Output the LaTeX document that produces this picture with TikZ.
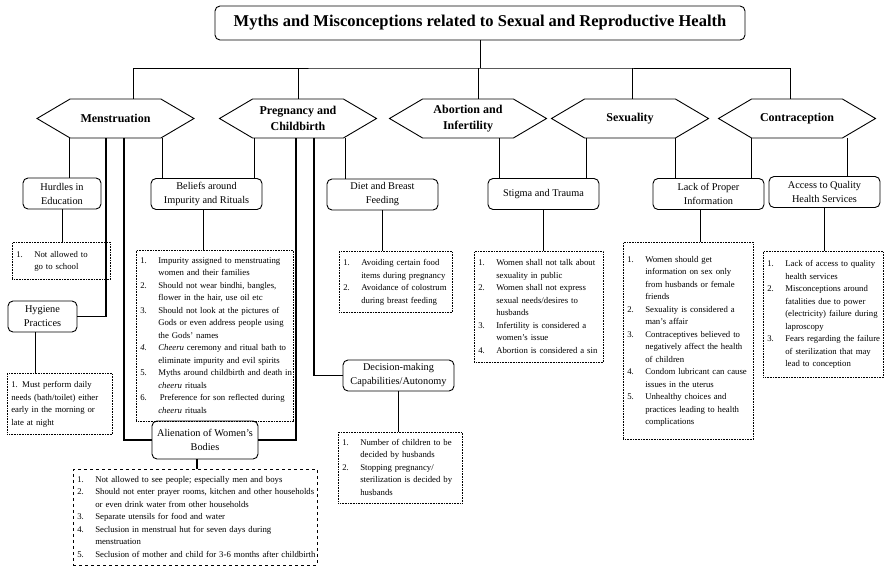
\documentclass[tikz,border=0pt]{standalone}
\usepackage{fontspec}
\setmainfont{Liberation Serif}
\usetikzlibrary{shapes.symbols}

\begin{document}
\begin{tikzpicture}[x=1pt,y=-1pt,line width=0.9pt,
  mainbox/.style={draw,rounded corners=5pt,minimum width=530,minimum height=34,inner sep=1pt,font=\bfseries\fontsize{16.5}{18}\selectfont},
  theme/.style={draw,signal,signal to=east and west,signal pointer angle=61,minimum width=157,minimum height=39,inner sep=1pt,align=center,font=\bfseries\fontsize{12}{16}\selectfont},
  sub/.style={draw,rounded corners=5pt,minimum width=111,minimum height=31,inner sep=1pt,align=center,font=\fontsize{10.3}{14}\selectfont},
  myth/.style={draw,densely dotted,line width=0.6pt,anchor=north west,inner xsep=4pt,inner ysep=4pt,align=left,font=\fontsize{8.75}{12.5}\selectfont},
  heavy/.style={line width=1.6pt}]
\useasboundingbox (0,0) rectangle (884,571);

\node[mainbox] (title) at (480,23) {Myths and Misconceptions related to Sexual and Reproductive Health};

\node[theme] (men) at (115.5,118.5) {Menstruation};
\node[theme] (preg) at (298,118.5) {Pregnancy and\\Childbirth};
\node[theme] (abor) at (468,118.5) {Abortion and\\Infertility};
\node[theme] (sexu) at (630,118.5) {Sexuality};
\node[theme] (contra) at (797,118.5) {Contraception};

\node[sub,minimum width=78] (hurdles) at (62,193.5) {Hurdles in\\Education};
\node[sub] (beliefs) at (206.5,194) {Beliefs around\\Impurity and Rituals};
\node[sub] (diet) at (382.5,194.5) {Diet and Breast\\Feeding};
\node[sub] (stigma) at (543.5,194) {Stigma and Trauma};
\node[sub] (lackinfo) at (708.5,194) {Lack of Proper\\Information};
\node[sub] (access) at (824.5,192) {Access to Quality\\Health Services};
\node[sub,minimum width=69] (hygiene) at (42.5,316.5) {Hygiene\\Practices};
\node[sub,minimum width=106,minimum height=38] (alien) at (205,440) {Alienation of Women’s\\Bodies};
\node[sub] (decision) at (398.5,375.5) {Decision-making\\Capabilities/Autonomy};

\node[myth,text width=90,minimum height=37] (hurdleslist) at (12,242) {%
\begin{tabular}{@{}p{18pt}@{}l@{}}
1. & Not allowed to\\
   & go to school
\end{tabular}};
\node[myth,text width=97,minimum height=61] (hygienelist) at (7,373) {%
\begin{tabular}{@{}l@{}}
1. Must perform daily\\
needs (bath/toilet) either\\
early in the morning or\\
late at night
\end{tabular}};
\node[myth,text width=149,minimum height=167] (beliefslist) at (136,250) {%
\begin{tabular}{@{}p{18pt}@{}l@{}}
1. & Impurity assigned to menstruating\\
   & women and their families\\
2. & Should not wear bindhi, bangles,\\
   & flower in the hair, use oil etc\\
3. & Should not look at the pictures of\\
   & Gods or even address people using\\
   & the Gods’ names\\
\textit{4.} & \textit{Cheeru} ceremony and ritual bath to\\
   & eliminate impurity and evil spirits\\
5. & Myths around childbirth and death in\\
   & \textit{cheeru} rituals\\
6. & \,Preference for son reflected during\\
   & \textit{cheeru} rituals
\end{tabular}};
\node[myth,text width=105,minimum height=61] (dietlist) at (339,251) {%
\begin{tabular}{@{}p{18pt}@{}l@{}}
1. & Avoiding certain food\\
   & items during pregnancy\\
2. & Avoidance of colostrum\\
   & during breast feeding
\end{tabular}};
\node[myth,text width=116,minimum height=70] (decisionlist) at (338,432) {%
\begin{tabular}{@{}p{18pt}@{}l@{}}
1. & Number of children to be\\
   & decided by husbands\\
2. & Stopping pregnancy/\\
   & sterilization is decided by\\
   & husbands
\end{tabular}};
\node[myth,dashed,text width=236,minimum height=94] (alienlist) at (73,469) {%
\begin{tabular}{@{}p{18pt}@{}l@{}}
1. & Not allowed to see people; especially men and boys\\
2. & Should not enter prayer rooms, kitchen and other households\\
   & or even drink water from other households\\
3. & Separate utensils for food and water\\
4. & Seclusion in menstrual hut for seven days during\\
   & menstruation\\
5. & Seclusion of mother and child for 3-6 months after childbirth
\end{tabular}};
\node[myth,text width=121,minimum height=111] (stigmalist) at (474,251) {%
\begin{tabular}{@{}p{18pt}@{}l@{}}
1. & Women shall not talk about\\
   & sexuality in public\\
2. & Women shall not express\\
   & sexual needs/desires to\\
   & husbands\\
3. & Infertility is considered a\\
   & women’s issue\\
4. & Abortion is considered a sin
\end{tabular}};
\node[myth,text width=122,minimum height=197] (lackinfolist) at (623,242) {%
\begin{tabular}{@{}p{18pt}@{}l@{}}
1. & Women should get\\
   & information on sex only\\
   & from husbands or female\\
   & friends\\
2. & Sexuality is considered a\\
   & man’s affair\\
3. & Contraceptives believed to\\
   & negatively affect the health\\
   & of children\\
4. & Condom lubricant can cause\\
   & issues in the uterus\\
5. & Unhealthy choices and\\
   & practices leading to health\\
   & complications
\end{tabular}};
\node[myth,text width=112,minimum height=126] (accesslist) at (763,251) {%
\begin{tabular}{@{}p{18pt}@{}l@{}}
1. & Lack of access to quality\\
   & health services\\
2. & Misconceptions around\\
   & fatalities due to power\\
   & (electricity) failure during\\
   & laproscopy\\
3. & Fears regarding the failure\\
   & of sterilization that may\\
   & lead to conception
\end{tabular}};

\coordinate (bus) at (480,68);
\draw (title.south) -- (bus);
\draw ([xshift=17.5]men.north) |- (bus) -| ([xshift=-7]contra.north);
\draw (preg.north) -- (preg.north |- bus);
\draw ([xshift=10]abor.north) -- ([xshift=10]abor.north |- bus);
\draw ([xshift=2]sexu.north) -- ([xshift=2]sexu.north |- bus);

\draw ([xshift=-46.5]men.south) -- ([xshift=-46.5]men.south |- hurdles.north);
\draw ([xshift=46.5]men.south) -- ([xshift=46.5]men.south |- beliefs.north);
\draw[heavy] ([xshift=-9.5]men.south) |- (hygiene.east);
\draw[heavy] ([xshift=8.5]men.south) |- (alien.west);
\draw ([xshift=-44]preg.south) -- ([xshift=-44]preg.south |- beliefs.north);
\draw[heavy] ([xshift=-2]preg.south) |- (alien.east);
\draw[heavy] ([xshift=16]preg.south) |- (decision.west);
\draw ([xshift=47]preg.south) -- ([xshift=47]preg.south |- diet.north);
\draw ([xshift=31]abor.south) -- ([xshift=31]abor.south |- stigma.north);
\draw ([xshift=-44]sexu.south) -- ([xshift=-44]sexu.south |- stigma.north);
\draw ([xshift=45]sexu.south) -- ([xshift=45]sexu.south |- lackinfo.north);
\draw ([xshift=-46]contra.south) -- ([xshift=-46]contra.south |- lackinfo.north);
\draw ([xshift=50]contra.south) -- ([xshift=50]contra.south |- access.north);

\draw (hurdles.south) -- (hurdles.south |- hurdleslist.north);
\draw[heavy] ([xshift=-7]hygiene.south) -- ([xshift=-7]hygiene.south |- hygienelist.north);
\draw ([xshift=-3.5]beliefs.south) -- ([xshift=-3.5]beliefs.south |- beliefslist.north);
\draw (diet.south) -- (diet.south |- dietlist.north);
\draw[heavy] (decision.south) -- (decision.south |- decisionlist.north);
\draw[heavy] ([xshift=-8]alien.south) -- ([xshift=-8]alien.south |- alienlist.north);
\draw (stigma.south) -- (stigma.south |- stigmalist.north);
\draw ([xshift=-8.5]lackinfo.south) -- ([xshift=-8.5]lackinfo.south |- lackinfolist.north);
\draw (access.south) -- (access.south |- accesslist.north);
\end{tikzpicture}
\end{document}
